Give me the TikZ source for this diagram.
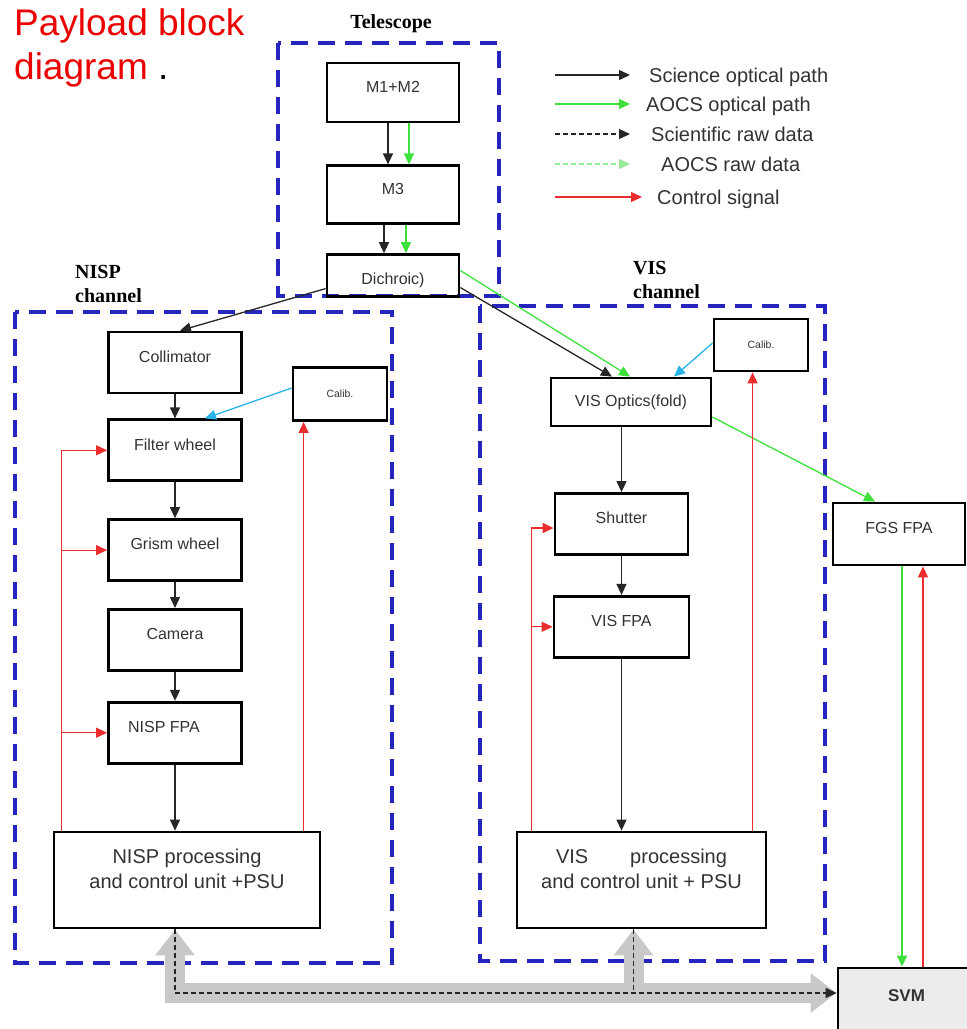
\documentclass[tikz,border=0pt]{standalone}
\usepackage{fontspec}
\setmainfont{Liberation Serif}
\setsansfont{Liberation Sans}
\usepackage{tikz}
\usetikzlibrary{arrows.meta,positioning}

\definecolor{chanblue}{RGB}{38,38,190}
\definecolor{aocsgreen}{RGB}{60,225,60}
\definecolor{rawgreen}{RGB}{150,235,150}
\definecolor{ctrlred}{RGB}{235,45,45}
\definecolor{calcyan}{RGB}{40,180,230}
\definecolor{busgray}{RGB}{200,200,200}
\definecolor{svmgray}{RGB}{236,236,236}
\definecolor{txtgray}{RGB}{50,50,50}
\definecolor{titlered}{RGB}{235,0,0}

\newcommand{\boxfont}{\sffamily\fontsize{16}{19}\selectfont}
\newcommand{\calfont}{\sffamily\fontsize{10.5}{12}\selectfont}
\newcommand{\procfont}{\sffamily\fontsize{20}{25}\selectfont}
\newcommand{\legfont}{\sffamily\fontsize{20}{24}\selectfont}
\newcommand{\chanfont}{\rmfamily\bfseries\fontsize{20}{24}\selectfont}
\newcommand{\titlefont}{\sffamily\fontsize{37}{44}\selectfont}

\begin{document}
\begin{tikzpicture}[
  x=1pt, y=-1pt,
  box/.style={draw, line width=2.8pt, inner sep=0pt, font=\boxfont, text=txtgray},
  blk/.style={box, minimum width=133pt, minimum height=61pt,
              text height=11.5pt, text depth=12pt},
  calbox/.style={box, minimum width=94pt, minimum height=53pt, font=\calfont},
  proc/.style={box, minimum height=96pt},
  proclbl/.style={anchor=north, yshift=-18pt, inner sep=0pt, align=center,
                  font=\procfont, text=txtgray},
  chan/.style={draw=chanblue, line width=4pt, dash pattern=on 17pt off 10pt},
  chanlbl/.style={anchor=north west, inner sep=0pt, align=left, font=\chanfont},
  legtxt/.style={anchor=west, inner sep=0pt, font=\legfont, text=txtgray,
                 text height=14.4pt, text depth=0pt},
  sci/.style={-{Triangle[length=11pt,width=10pt]}, line width=1.3pt, draw=black!85},
  aocs/.style={sci, draw=aocsgreen},
  raw/.style={sci, dash pattern=on 5pt off 3pt},
  aocsraw/.style={sci, draw=rawgreen, dash pattern=on 5pt off 3pt},
  ctrl/.style={-{Triangle[length=11pt,width=10pt]}, line width=1.2pt, draw=ctrlred},
  calarr/.style={sci, draw=calcyan},
  bus/.style={draw=busgray, line width=20pt},
  busboth/.style={bus, {Triangle[length=26pt,width=38pt]}-{Triangle[length=26pt,width=38pt]}},
  busup/.style={bus, -{Triangle[length=26pt,width=38pt]}}
]
  \useasboundingbox (0,0) rectangle (967,1029);

  % Title
  \node[anchor=north west, inner sep=0pt, align=left, font=\titlefont,
        text=titlered] (title) at (14,8) {Payload block\\diagram \textcolor{black}{.}};

  % Channels
  \draw[chan] (278,43) rectangle (499,296);
  \draw[chan] (15,312) rectangle (392,963);
  \draw[chan] (480,306) rectangle (825,961);
  \node[anchor=base, inner sep=0pt, font=\chanfont] (telname) at (391,28.6) {Telescope};
  \node[chanlbl] (nispname) at (75,265.5) {NISP\\channel};
  \node[chanlbl] (visname) at (633,261.5) {VIS\\channel};

  % Telescope
  \node[blk, minimum width=132pt, minimum height=59pt] (m12) at (393,92.5) {M1+M2};
  \node[blk, minimum width=132pt, minimum height=58pt, below=41pt of m12] (m3) {M3};
  \node[box, minimum width=132pt, minimum height=42pt, text height=17pt,
        text depth=0pt, below=28pt of m3] (dich) {Dichroic)};

  % NISP channel
  \node[blk] (coll) at (175,362.5) {Collimator};
  \node[blk, below=24pt of coll] (filt) {Filter wheel};
  \node[blk, below=36pt of filt] (grism) {Grism wheel};
  \node[blk, below=26pt of grism] (cam) {Camera};
  \node[blk, below=29pt of cam] (nfpa) {NISP FPA\hspace*{22pt}};
  \node[calbox] (calA) at (340,394) {Calib.};
  \node[proc, minimum width=266pt,
        label={[proclbl]north:{NISP processing\\and control unit +PSU}}] (nproc) at (187,880) {};

  % VIS channel
  \node[calbox, minimum height=52pt] (calB) at (761,345) {Calib.};
  \node[box, minimum width=160pt, minimum height=48pt] (visopt) at (631,402) {VIS Optics(fold)};
  \node[blk] (shutter) at (621.5,524) {Shutter};
  \node[blk, minimum width=135pt, below=39pt of shutter] (vfpa) {VIS FPA};
  \node[proc, minimum width=249pt,
        label={[proclbl]north:{VIS\hspace{42pt}processing\\and control unit + PSU}}] (vproc) at (641.5,880) {};

  % FGS and SVM
  \node[blk, minimum width=132pt, minimum height=62pt] (fgs) at (899,534) {FGS FPA};
  \node[box, fill=svmgray, minimum width=137pt, minimum height=64pt,
        font=\sffamily\bfseries\fontsize{17}{20}\selectfont,
        text height=12.2pt, text depth=10pt] (svm) at (906.5,1000) {SVM};

  % Legend
  \node[legtxt] (l1) at (649,75) {Science optical path};
  \node[legtxt] (l2) at (646,104) {AOCS optical path};
  \node[legtxt] (l3) at (651,134) {Scientific raw data};
  \node[legtxt] (l4) at (661,164) {AOCS raw data};
  \node[legtxt] (l5) at (657,197) {Control signal};
  \draw[sci] ([xshift=-94]l1.west) -- ([xshift=-19]l1.west);
  \draw[aocs] ([xshift=-91]l2.west) -- ([xshift=-16]l2.west);
  \draw[raw] ([xshift=-96]l3.west) -- ([xshift=-21]l3.west);
  \draw[aocsraw] ([xshift=-106]l4.west) -- ([xshift=-31]l4.west);
  \draw[ctrl] ([xshift=-102]l5.west) -- ([xshift=-15]l5.west);

  % Optical paths
  \draw[sci] ([xshift=-5]m12.south) -- ([xshift=-5]m3.north);
  \draw[aocs] ([xshift=16]m12.south) -- ([xshift=16]m3.north);
  \draw[sci] ([xshift=-9]m3.south) -- ([xshift=-9]dich.north);
  \draw[aocs] ([xshift=13]m3.south) -- ([xshift=13]dich.north);
  \draw[sci] ([yshift=-13]dich.west) -- ([xshift=5]coll.north);
  \draw[sci] ([yshift=-12]dich.east) -- ([xshift=-19]visopt.north);
  \draw[aocs] ([yshift=5]dich.east) -- ([xshift=-1]visopt.north);
  \draw[sci] (coll) -- (filt);
  \draw[sci] (filt) -- (grism);
  \draw[sci] (grism) -- (cam);
  \draw[sci] (cam) -- (nfpa);
  \draw[sci] (nfpa.south) -- (nfpa.south |- nproc.north);
  \draw[sci] (visopt.south -| shutter.north) -- (shutter.north);
  \draw[sci] (shutter) -- (vfpa);
  \draw[sci] (vfpa.south) -- (vfpa.south |- vproc.north);
  \draw[aocs] ([yshift=-15]visopt.east) -- ([xshift=-24]fgs.north);

  % Calibration
  \draw[calarr] ([yshift=6]calA.west) -- ([xshift=30]filt.north);
  \draw[calarr] ([yshift=2]calB.west) -- ([xshift=43]visopt.north);

  % Control signals
  \coordinate (nrl) at ([xshift=9]nproc.north west);
  \coordinate (nrr) at ([xshift=12]calA.south west);
  \draw[ctrl] (nrl) |- (filt.west);
  \draw[ctrl] (nrl |- grism.west) -- (grism.west);
  \draw[ctrl] (nrl |- nfpa.west) -- (nfpa.west);
  \draw[ctrl] (nrr |- nproc.north) -- (nrr);
  \coordinate (vrl) at ([xshift=16]vproc.north west);
  \coordinate (vrr) at ([xshift=40]calB.south west);
  \draw[ctrl] (vrl) |- ([yshift=-4]shutter.west);
  \draw[ctrl] (vrl |- vfpa.west) -- (vfpa.west);
  \draw[ctrl] (vrr |- vproc.north) -- (vrr);
  \coordinate (fg) at ([xshift=3]fgs.south);
  \coordinate (fr) at ([xshift=24]fgs.south);
  \draw[aocs] (fg) -- (fg |- svm.north);
  \draw[ctrl] (fr |- svm.north) -- (fr);

  % Data bus to SVM
  \coordinate (nb) at ([xshift=-12]nproc.south);
  \coordinate (vb) at ([xshift=-8]vproc.south);
  \coordinate (sb) at ([yshift=7]svm.west);
  \draw[busboth] (nb) |- (sb);
  \draw[busup] (vb |- sb) -- (vb);
  \draw[raw] (nb) |- (sb);
  \draw[raw, -] (vb) -- (vb |- sb);
\end{tikzpicture}
\end{document}
